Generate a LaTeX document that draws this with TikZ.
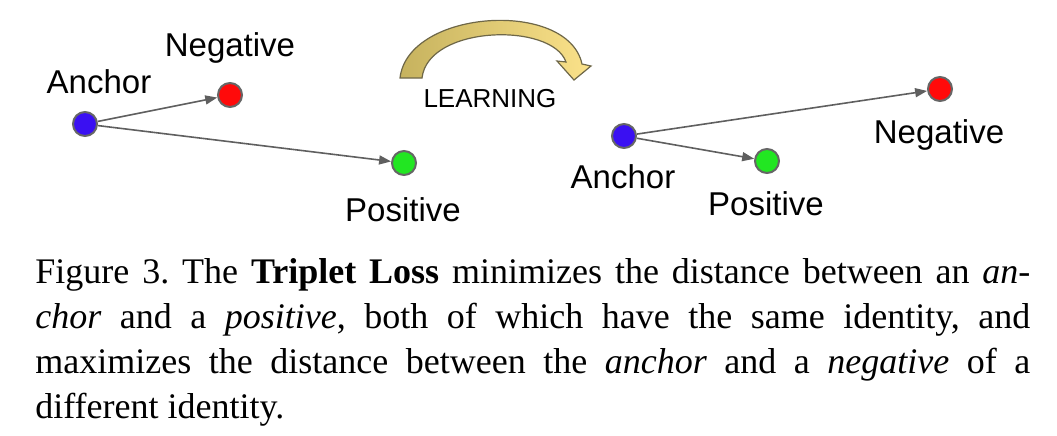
\documentclass[tikz,border=0pt]{standalone}
\usepackage{fontspec}
\setmainfont{Liberation Serif}
\newfontfamily\arial{Liberation Sans}
\usetikzlibrary{arrows.meta}

\definecolor{dotline}{HTML}{666666}
\definecolor{linkgray}{HTML}{5F5F5F}
\definecolor{anchorblue}{HTML}{3A10F2}
\definecolor{negred}{HTML}{FF0A0A}
\definecolor{posgreen}{HTML}{22E622}
\definecolor{goldleft}{HTML}{C6B25E}
\definecolor{goldright}{HTML}{FBE28A}
\definecolor{goldline}{HTML}{6E6748}

\begin{document}
\begin{tikzpicture}[x=0.5pt,y=-0.5pt,
  dot/.style={circle,draw=dotline,line width=1pt,minimum size=12pt,inner sep=0pt},
  lbl/.style={font=\arial\fontsize{16.5pt}{19pt}\selectfont,anchor=base,inner sep=0pt},
  conn/.style={draw=linkgray,line width=0.8pt,-{Triangle[length=6pt,width=4.5pt]}},
  learnarrow/.style={draw=goldline,line width=0.6pt,left color=goldleft,right color=goldright}]
\useasboundingbox (0,0) rectangle (1057,435);
% before learning
\node[dot,fill=anchorblue] (a1) at (85,124) {};
\node[dot,fill=negred] (n1) at (230,95) {};
\node[dot,fill=posgreen] (p1) at (404,163) {};
\node[lbl] (la1) at (99,93) {Anchor};
\node[lbl] (ln1) at (230,56) {Negative};
\node[lbl] (lp1) at (403,221) {Positive};
\draw[conn] (a1) -- (n1);
\draw[conn] (a1) -- (p1);
% learning step
\draw[learnarrow] (400,78) .. controls (408,9) and (568,-1) .. (582,64)
  -- (591,66) -- (574,80) -- (557,61) -- (566,62)
  .. controls (552,22) and (428,25) .. (422,78) -- cycle;
\node[lbl,font=\arial\fontsize{13pt}{15pt}\selectfont] (learn) at (490,107) {LEARNING};
% after learning
\node[dot,fill=anchorblue] (a2) at (624,136) {};
\node[dot,fill=negred] (n2) at (940,89) {};
\node[dot,fill=posgreen] (p2) at (767,161) {};
\node[lbl] (la2) at (623,188) {Anchor};
\node[lbl] (ln2) at (939,143) {Negative};
\node[lbl] (lp2) at (766,215) {Positive};
\draw[conn] (a2) -- (n2);
\draw[conn] (a2) -- (p2);
\node[anchor=north west,inner sep=0pt,text width=497.5pt,align=justify,
  font=\fontsize{18pt}{22.5pt}\selectfont\frenchspacing] (caption) at (35,258.5)
  {\noindent\tolerance=10000\relax\hbadness=10000\relax
  Figure 3. The \textbf{Triplet Loss} minimizes the distance between an \emph{an-}\linebreak
  \emph{chor} and a \emph{positive}, both of which have the same identity, and\linebreak
  maximizes the distance between the \emph{anchor} and a \emph{negative} of a\linebreak
  different identity.};
\end{tikzpicture}
\end{document}
